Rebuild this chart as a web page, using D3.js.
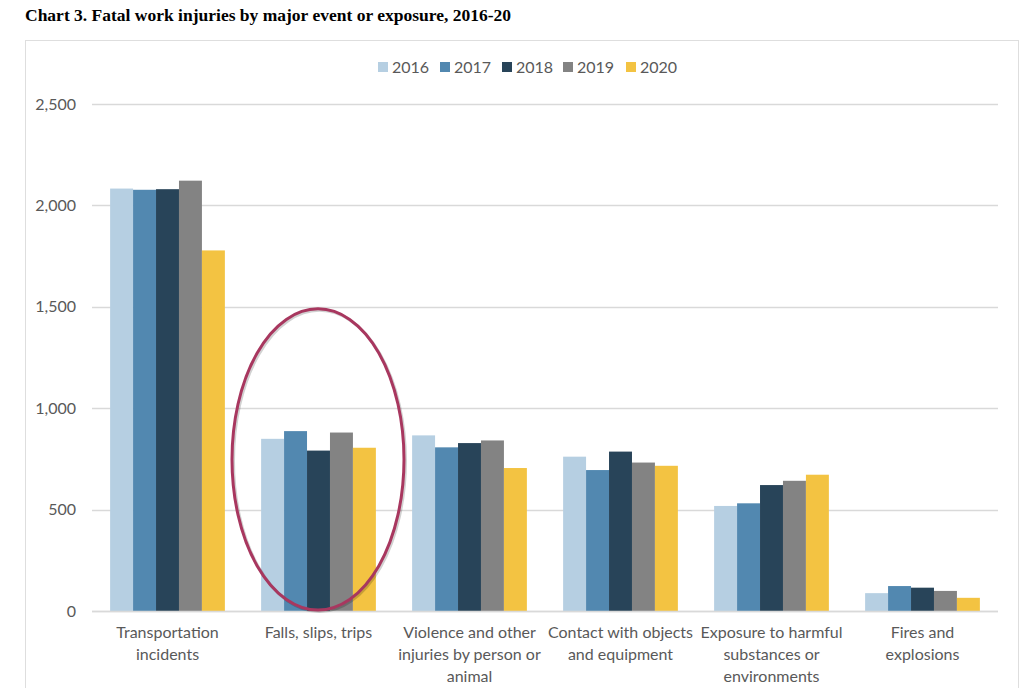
<!DOCTYPE html>
<html><head><meta charset="utf-8">
<script src="https://cdn.jsdelivr.net/npm/d3@7"></script>
<style>
body{margin:0;background:#fff;}
svg{display:block;}
</style></head>
<body>
<svg id="chart" width="1024" height="688"></svg>
<script>
const title = "Chart 3. Fatal work injuries by major event or exposure, 2016-20";
const categories = [
  ["Transportation", "incidents"],
  ["Falls, slips, trips"],
  ["Violence and other", "injuries by person or", "animal"],
  ["Contact with objects", "and equipment"],
  ["Exposure to harmful", "substances or", "environments"],
  ["Fires and", "explosions"]
];
const years = ["2016", "2017", "2018", "2019", "2020"];
const colors = ["#b6cfe2", "#5288b0", "#284459", "#838383", "#f3c342"];
const v2016 = [2083, 849, 866, 761, 518, 88];
const v2017 = [2077, 887, 807, 695, 531, 123];
const v2018 = [2080, 791, 828, 786, 621, 115];
const v2019 = [2122, 880, 841, 732, 642, 99];
const v2020 = [1778, 805, 705, 716, 672, 65];
const yTicks = [0, 500, 1000, 1500, 2000, 2500];

const series = [v2016, v2017, v2018, v2019, v2020];
const svg = d3.select("#chart");
const font = "Lato, 'Open Sans', sans-serif";

svg.append("text").attr("x", 25).attr("y", 21)
  .attr("font-family", "'Liberation Serif', 'Times New Roman', serif")
  .attr("font-weight", "bold").attr("font-size", 17.5).attr("fill", "#000")
  .text(title);

// frame
svg.append("rect").attr("x", 25.5).attr("y", 40.5).attr("width", 993).attr("height", 660)
  .attr("fill", "none").attr("stroke", "#dedede").attr("stroke-width", 1);

const x0 = d3.scaleBand().domain(d3.range(categories.length)).range([92, 998]).paddingInner(0).paddingOuter(0);
const innerPad = 0.24;
const x1 = d3.scaleBand().domain(d3.range(years.length))
  .range([x0.bandwidth() * innerPad / 2, x0.bandwidth() * (1 - innerPad / 2)]).padding(0);
const y = d3.scaleLinear().domain([0, 2500]).range([611, 104]);

// gridlines
svg.append("g").selectAll("line").data(yTicks).join("line")
  .attr("x1", 92).attr("x2", 998)
  .attr("y1", d => Math.round(y(d)) + 0.5).attr("y2", d => Math.round(y(d)) + 0.5)
  .attr("stroke", "#d9d9d9").attr("stroke-width", 1.3);

// y labels
svg.append("g").selectAll("text").data(yTicks).join("text")
  .attr("x", 76).attr("y", d => y(d)).attr("dy", "0.35em")
  .attr("text-anchor", "end").attr("font-family", font).attr("font-size", 16)
  .attr("fill", "#595959").text(d => d3.format(",")(d));

// bars
const groups = svg.append("g").selectAll("g").data(categories).join("g")
  .attr("transform", (d, i) => `translate(${x0(i)},0)`);
groups.selectAll("rect").data((d, i) => series.map((s, j) => ({ j, v: s[i] }))).join("rect")
  .attr("x", d => x1(d.j)).attr("width", x1.bandwidth())
  .attr("y", d => y(d.v)).attr("height", d => y(0) - y(d.v))
  .attr("fill", d => colors[d.j]);

// baseline
svg.append("line").attr("x1", 92).attr("x2", 998).attr("y1", 611.5).attr("y2", 611.5)
  .attr("stroke", "#d9d9d9").attr("stroke-width", 1.3);

// x labels
const xl = svg.append("g").selectAll("text").data(categories).join("text")
  .attr("x", (d, i) => x0(i) + x0.bandwidth() / 2).attr("y", 638)
  .attr("text-anchor", "middle").attr("font-family", font).attr("font-size", 16)
  .attr("fill", "#595959");
xl.selectAll("tspan").data(d => d).join("tspan")
  .attr("x", function () { return d3.select(this.parentNode).attr("x"); })
  .attr("dy", (d, k) => k === 0 ? 0 : 22).text(d => d);

// legend
const legX = [378, 440, 502, 563, 626];
const leg = svg.append("g").selectAll("g").data(years).join("g")
  .attr("transform", (d, i) => `translate(${legX[i]},62)`);
leg.append("rect").attr("width", 10).attr("height", 10).attr("fill", (d, i) => colors[i]);
leg.append("text").attr("x", 14).attr("y", 5).attr("dy", "0.36em")
  .attr("font-family", font).attr("font-size", 16).attr("fill", "#595959").text(d => d);

// annotation ellipse around "Falls, slips, trips"
const cx = x0(1) + x0.bandwidth() / 2 - 0.5;
const yTop = y(1490), yBot = y(5);
svg.append("ellipse").attr("cx", cx + 1.5).attr("cy", (yTop + yBot) / 2 + 1.5)
  .attr("rx", 86).attr("ry", (yBot - yTop) / 2)
  .attr("fill", "none").attr("stroke", "#000").attr("stroke-opacity", 0.18).attr("stroke-width", 3);
svg.append("ellipse").attr("cx", cx).attr("cy", (yTop + yBot) / 2)
  .attr("rx", 86).attr("ry", (yBot - yTop) / 2)
  .attr("fill", "none").attr("stroke", "#a8375f").attr("stroke-width", 3);
</script>
</body></html>
